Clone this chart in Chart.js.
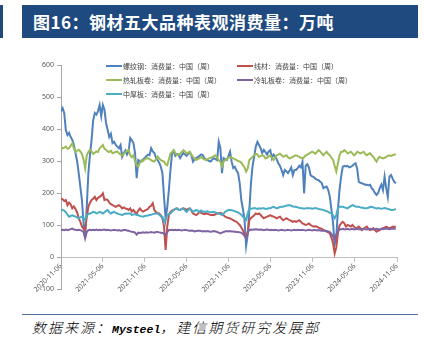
<!DOCTYPE html>
<html><head><meta charset="utf-8">
<script src="https://cdn.jsdelivr.net/npm/chart.js@4.4.0/dist/chart.umd.min.js"></script>
<style>
html,body{margin:0;padding:0;width:424px;height:342px;overflow:hidden;background:#fff;}
#leftbar{position:absolute;left:0;top:5px;width:3px;height:33px;background:#1F4A7F}
#banner{position:absolute;left:22px;top:5px;width:396px;height:33px;background:#1F4A7F;color:#fff;font-family:"Noto Sans CJK SC";font-weight:bold;font-size:17px;line-height:33px;padding-left:11px;box-sizing:border-box;letter-spacing:0.5px;white-space:nowrap}
#footline{position:absolute;left:22px;top:314px;width:396px;height:1px;background:#4F6F9F}
#foot{position:absolute;left:32px;top:317px;font-family:"Noto Sans CJK SC";font-weight:300;font-style:italic;font-size:14px;letter-spacing:2px;color:#000;white-space:nowrap;line-height:20px}
#foot .en{font-family:"Liberation Mono";font-weight:bold;font-size:11.5px;letter-spacing:0}
canvas{position:absolute;left:0;top:0}
</style></head>
<body>
<div id="leftbar"></div>
<div id="banner">图16：钢材五大品种表观消费量：万吨</div>
<div id="footline"></div>
<div id="foot">数据来源：<span class="en">Mysteel</span>，建信期货研究发展部</div>
<canvas id="c" width="424" height="342"></canvas>
<script>
const startDate = '2020-11-06';
const seriesNames = ['螺纹钢：消费量：中国（周）','线材：消费量：中国（周）','热轧板卷：消费量：中国（周）','冷轧板卷：消费量：中国（周）','中厚板：消费量：中国（周）'];
const tickLabels = ['2020-11-06','2021-05-06','2021-11-06','2022-05-06','2022-11-06','2023-05-06','2023-11-06','2024-05-06','2024-11-06'];

const rebar = [
455,465,450,397,381,388,375,366,350,325,
300,262,220,178,106,63,157,262,320,366,
428,450,445,456,475,440,475,460,418,397,
375,385,356,360,350,345,340,350,313,325,
333,320,330,372,365,356,325,246,303,300,
298,305,309,315,320,318,340,330,325,310,
303,295,282,262,188,120,156,209,272,325,
330,316,322,320,309,318,325,320,316,322,
325,318,298,305,309,312,316,320,319,309,
305,303,300,298,305,309,306,303,360,340,
262,309,306,303,315,329,298,278,282,270,
262,231,178,150,116,35,70,147,231,284,
313,345,360,350,340,325,335,328,320,330,
334,308,320,315,305,293,285,272,256,272,
268,262,270,280,256,272,272,278,285,280,
298,199,285,290,280,256,252,250,245,242,
240,235,231,215,218,220,209,188,147,106,
40,60,147,209,251,282,285,283,285,280,
282,285,290,293,275,235,232,230,228,226,
226,224,226,215,209,200,194,200,215,226,
209,251,215,188,251,256,245,235,230];

const wireRod = [
183,180,175,178,162,170,165,152,158,150,
140,121,110,95,88,84,125,157,170,178,
182,188,178,185,188,192,199,178,180,178,
170,165,162,160,157,160,162,158,152,155,
152,150,147,152,142,147,140,136,145,152,
145,142,145,147,150,157,160,168,147,140,
138,136,130,121,95,22,95,131,141,145,
147,150,152,148,147,150,152,150,147,150,
152,145,136,133,131,135,141,138,136,134,
136,135,133,131,132,131,134,136,136,138,
136,130,126,124,122,121,118,115,112,110,
105,100,92,84,72,64,74,115,122,126,
130,136,134,136,131,126,121,124,126,128,
131,128,126,124,121,124,126,120,115,118,
121,118,115,113,110,112,110,112,115,110,
105,103,100,102,105,100,97,95,96,95,
92,90,88,84,82,79,77,74,60,43,
11,30,74,98,105,110,105,95,100,98,
95,100,95,90,92,95,90,84,88,92,
95,88,84,86,90,84,79,82,84,88,
90,92,95,92,90,92,95,94,95];

const hotRolled = [
336,340,342,345,338,340,348,355,340,328,
332,335,330,322,305,277,318,328,335,330,
322,326,330,328,340,345,350,338,335,330,
328,332,324,326,328,330,324,320,318,322,
328,332,335,318,312,318,300,287,282,295,
303,300,305,308,309,306,303,300,298,305,
314,308,303,300,298,290,287,305,323,328,
334,325,318,320,323,328,334,330,323,326,
329,320,313,308,303,306,308,313,308,305,
303,306,308,310,312,315,318,310,302,298,
282,298,303,306,310,313,310,308,306,303,
300,298,295,287,280,267,277,303,308,313,
318,323,320,313,315,318,316,308,310,314,
318,310,303,310,318,320,323,318,313,316,
318,312,308,310,313,316,318,315,313,310,
308,312,318,320,323,326,329,326,323,328,
334,330,324,318,324,329,322,318,310,303,
285,267,292,318,329,329,334,330,324,326,
329,324,318,322,329,326,324,326,329,322,
318,322,324,318,313,305,298,308,313,310,
308,310,313,316,318,316,318,320,320];

const coldRolled = [
84,85,84,86,84,85,87,89,86,85,
84,85,84,82,78,58,78,84,85,84,
85,84,86,84,85,84,85,86,84,85,
84,83,84,85,84,83,84,82,83,84,
84,83,82,80,79,78,76,70,76,75,
76,77,76,77,76,77,78,77,76,78,
78,77,76,75,72,69,78,84,84,85,
84,85,84,85,84,83,84,85,84,83,
82,83,82,80,81,82,82,81,80,81,
80,81,80,79,80,81,80,78,76,74,
76,78,80,81,80,81,80,80,79,78,
78,77,76,72,66,58,78,84,86,85,
86,87,86,85,86,85,84,85,86,85,
84,85,84,85,84,83,84,85,84,83,
84,85,84,83,84,85,84,85,84,84,
85,84,83,84,85,84,83,84,84,83,
84,83,82,83,82,81,80,78,72,64,
53,70,82,86,87,88,86,87,88,86,
87,88,86,87,88,87,86,87,88,87,
86,87,88,87,86,87,88,87,86,88,
87,88,89,88,87,88,89,88,89];

const mediumPlate = [
148,147,145,140,132,126,128,130,128,126,
124,121,124,126,122,116,131,134,136,138,
141,140,136,138,141,139,136,140,144,147,
140,136,139,141,138,136,134,133,131,134,
136,135,136,136,131,133,134,131,131,128,
127,126,128,129,130,131,132,134,135,136,
136,132,128,126,110,118,131,134,136,142,
147,150,152,148,147,150,152,146,141,146,
152,147,141,144,147,145,141,145,141,142,
141,143,141,140,141,141,139,138,136,134,
131,136,141,144,147,147,146,145,143,141,
139,136,132,126,122,116,136,152,150,152,
153,152,150,152,151,152,152,150,151,152,
152,155,157,154,152,154,156,157,157,159,
160,162,162,160,158,157,157,155,154,152,
152,151,152,153,152,152,151,152,153,152,
150,149,148,147,145,143,141,138,136,130,
121,131,152,157,157,157,155,154,152,156,
159,162,160,158,157,157,155,154,153,152,
152,154,156,157,155,153,152,153,152,151,
152,153,152,150,149,147,147,148,150];

const colors = ['#4F81BD','#C0504D','#9BBB59','#8064A2','#4BACC6'];
const seriesValues = [rebar, wireRod, hotRolled, coldRolled, mediumPlate];

const DAY = 86400000;
const t0 = Date.parse(startDate + 'T00:00:00Z');
const dayOf = s => Math.round((Date.parse(s + 'T00:00:00Z') - t0) / DAY);
const tickDays = tickLabels.map(dayOf);

const datasets = seriesValues.map((vals, k) => ({
  label: seriesNames[k],
  data: vals.map((v, i) => ({x: i * 7, y: v})),
  borderColor: colors[k],
  backgroundColor: colors[k],
  borderWidth: 2,
  pointRadius: 0,
  tension: 0,
  fill: false,
  order: 5 - k
}));

const gridLegend = {
  id: 'gridLegend',
  afterDraw(chart) {
    const ctx = chart.ctx, ca = chart.chartArea;
    ctx.save();
    ctx.font = '7px "Noto Sans CJK SC"';
    ctx.textBaseline = 'middle';
    ctx.textAlign = 'left';
    chart.data.datasets.forEach((ds, k) => {
      const col = k % 2, row = Math.floor(k / 2);
      const x = ca.left + 45 + col * 131;
      const y = ca.top + 1 + row * 14;
      ctx.strokeStyle = ds.borderColor;
      ctx.lineWidth = 2;
      ctx.beginPath(); ctx.moveTo(x, y); ctx.lineTo(x + 16, y); ctx.stroke();
      ctx.fillStyle = '#404040';
      ctx.fillText(ds.label, x + 17, y);
    });
    ctx.restore();
  }
};

new Chart(document.getElementById('c'), {
  type: 'line',
  data: {datasets},
  options: {
    responsive: false,
    animation: false,
    events: [],
    layout: {padding: {top: 65, bottom: 53, left: 10, right: 27}},
    plugins: {legend: {display: false}, tooltip: {enabled: false}},
    scales: {
      x: {
        type: 'linear',
        position: {y: 0},
        min: 0,
        max: tickDays[tickDays.length - 1],
        afterFit: s => { s.height = 0; },
        afterBuildTicks: s => { s.ticks = tickDays.map(v => ({value: v})); },
        grid: {display: true, drawOnChartArea: false, drawTicks: true, tickLength: 4, color: '#BFBFBF'},
        border: {display: true, color: '#BFBFBF', width: 1},
        ticks: {
          autoSkip: false, minRotation: 45, maxRotation: 45, padding: 1,
          color: '#595959', font: {family: 'Noto Sans', size: 7},
          callback: v => tickLabels[tickDays.indexOf(v)]
        }
      },
      y: {
        min: -100, max: 600,
        afterFit: s => { s.width = 51; },
        grid: {display: true, drawOnChartArea: false, drawTicks: true, tickLength: 4, color: '#A6A6A6'},
        border: {display: true, color: '#A6A6A6', width: 1},
        ticks: {stepSize: 100, padding: 3, color: '#595959', font: {family: 'Noto Sans', size: 7}}
      }
    }
  },
  plugins: [gridLegend]
});
</script>
</body></html>
